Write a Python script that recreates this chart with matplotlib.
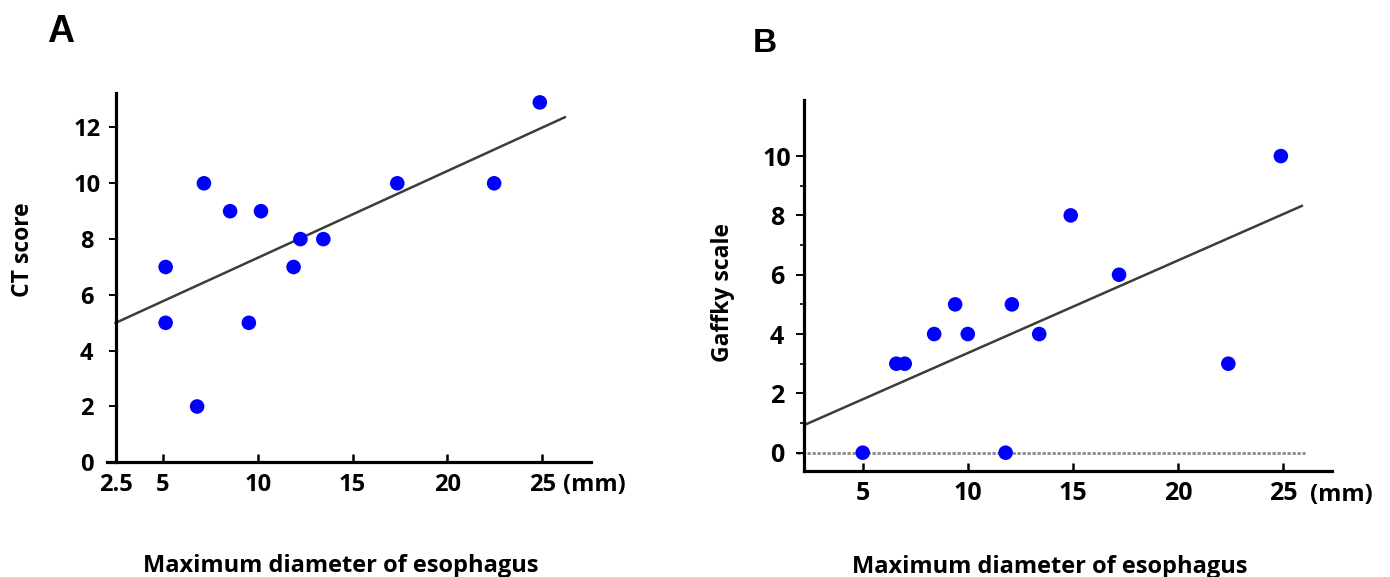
import matplotlib
matplotlib.use('Agg')
import matplotlib.pyplot as plt
import numpy as np

# ---------------- data ----------------
a_x = [5.14, 5.14, 6.8, 7.16, 8.54, 9.53, 10.17, 11.89, 12.25, 13.46, 17.36, 22.47, 24.88]
a_y = [7, 5, 2, 10, 9, 5, 9, 7, 8, 8, 10, 10, 12.9]
a_fit = (0.311, 4.22)          # slope, intercept
a_fit_range = (2.5, 26.2)
a_xticks = [2.5, 5, 10, 15, 20, 25]
a_xticklabels = ['2.5', '5', '10', '15', '20', '25']
a_yticks = [0, 2, 4, 6, 8, 10, 12]

b_x = [5.0, 6.6, 7.0, 8.4, 9.4, 10.0, 11.8, 12.1, 13.4, 14.9, 17.2, 22.4, 24.9]
b_y = [0, 3, 3, 4, 5, 4, 0, 5, 4, 8, 6, 3, 10]
b_fit = (0.312, 0.24)
b_fit_range = (2.22, 25.9)
b_zero_range = (1.86, 26.06)
b_xticks = [5, 10, 15, 20, 25]
b_yticks = [0, 2, 4, 6, 8, 10]
b_yminor = [1, 3, 5, 7, 9]

xlabel_text = 'Maximum diameter of esophagus'
unit_text = '(mm)'
a_ylabel = 'CT score'
b_ylabel = 'Gaffky scale'

# ---------------- figure ----------------
W, H = 1390, 577
fig = plt.figure(figsize=(W / 100, H / 100), dpi=100)
FONT = ['Open Sans', 'DejaVu Sans']
BLUE = '#0000FF'
LINE = '#3c3c3c'


def box(l, t, r, b):
    return [l / W, 1 - b / H, (r - l) / W, (b - t) / H]


def fx(x):
    return x / W


def fy(y):
    return 1 - y / H


def style_ticklabels(ax, size):
    for lab in ax.get_xticklabels() + ax.get_yticklabels():
        lab.set_fontfamily(FONT)
        lab.set_fontweight('bold')
        lab.set_fontsize(size)
    for lab in ax.get_yticklabels():
        lab.set_horizontalalignment('center')


# ---- Panel A ----
axA = fig.add_axes(box(106.7, 92.9, 591, 462.3))
axA.set_xlim(2.03, 27.58)
axA.set_ylim(0, 13.24)
axA.spines['left'].set_position(('data', 2.5))
for s in ['top', 'right']:
    axA.spines[s].set_visible(False)
for s in ['left', 'bottom']:
    axA.spines[s].set_linewidth(2.3)
axA.set_xticks(a_xticks)
axA.set_xticklabels(a_xticklabels)
axA.set_yticks(a_yticks)
axA.tick_params(axis='x', direction='in', length=5.5, width=1.8, pad=7.5)
axA.tick_params(axis='y', direction='out', length=5.3, width=1.4, pad=15.5)
style_ticklabels(axA, 17)

xs = np.array(a_fit_range)
axA.plot(xs, a_fit[0] * xs + a_fit[1], color=LINE, lw=1.8, zorder=2)
axA.scatter(a_x, a_y, s=110, c=BLUE, edgecolors='none', zorder=3, clip_on=False)

# ---- Panel B ----
axB = fig.add_axes(box(804.3, 100, 1331.7, 470.7))
axB.set_xlim(2.22, 27.32)
axB.set_ylim(-0.607, 11.89)
for s in ['top', 'right']:
    axB.spines[s].set_visible(False)
for s in ['left', 'bottom']:
    axB.spines[s].set_linewidth(2.3)
axB.set_xticks(b_xticks)
axB.set_yticks(b_yticks)
axB.set_yticks(b_yminor, minor=True)
axB.tick_params(axis='x', direction='in', length=5.5, width=1.8, pad=7.5)
axB.tick_params(axis='y', which='major', direction='out', length=5.5, width=1.4, pad=14)
axB.tick_params(axis='y', which='minor', direction='out', length=3, width=1.2)
style_ticklabels(axB, 18)

xz = np.array(b_zero_range)
axB.plot(xz, [0, 0], color='#8a8a8a', lw=2.0, ls=(0, (1.2, 0.6)), zorder=1, clip_on=False)
xb = np.array(b_fit_range)
axB.plot(xb, b_fit[0] * xb + b_fit[1], color=LINE, lw=1.8, zorder=2)
axB.scatter(b_x, b_y, s=110, c=BLUE, edgecolors='none', zorder=3, clip_on=False)

# ---- texts ----
fig.text(fx(60.5), fy(41.7), 'A', ha='center', va='baseline',
         fontfamily=['Liberation Sans', 'DejaVu Sans'], fontweight='bold', fontsize=27)
fig.text(fx(764.7), fy(51.7), 'B', ha='center', va='baseline',
         fontfamily=['Liberation Sans', 'DejaVu Sans'], fontweight='bold', fontsize=24)

fig.text(fx(341), fy(572), xlabel_text, ha='center', va='baseline',
         fontfamily=FONT, fontweight='bold', fontsize=17)
fig.text(fx(1050), fy(573), xlabel_text, ha='center', va='baseline',
         fontfamily=FONT, fontweight='bold', fontsize=17)

fig.text(fx(594), fy(485), unit_text, ha='center', va='center',
         fontfamily=FONT, fontweight='bold', fontsize=17)
fig.text(fx(1341), fy(495), unit_text, ha='center', va='center',
         fontfamily=FONT, fontweight='bold', fontsize=17)

fig.text(fx(23), fy(250), a_ylabel, ha='center', va='center', rotation=90,
         fontfamily=FONT, fontweight='bold', fontsize=16.5)
fig.text(fx(723), fy(293), b_ylabel, ha='center', va='center', rotation=90,
         fontfamily=FONT, fontweight='bold', fontsize=16.5)

fig.savefig('out.png', dpi=100, facecolor='white')
